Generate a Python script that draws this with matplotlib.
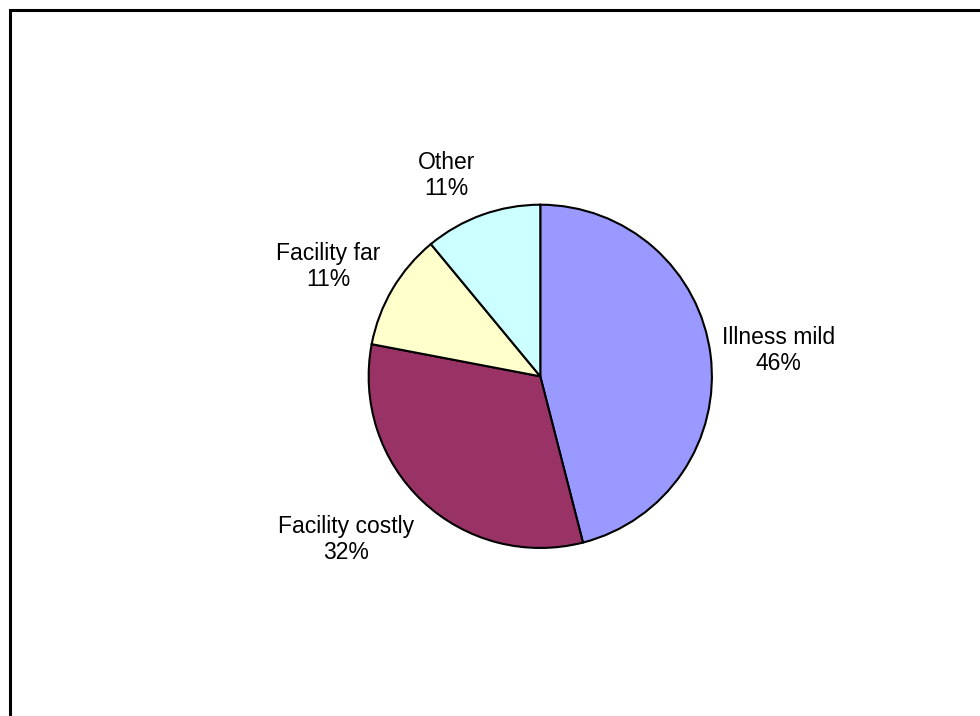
import matplotlib
matplotlib.use("Agg")
import matplotlib.pyplot as plt
from matplotlib.patches import Rectangle

# reasons for not seeking care
labels = ["Illness mild", "Facility costly", "Facility far", "Other"]
shares = [46, 32, 11, 11]
colors = ["#9999FF", "#993366", "#FFFFCC", "#CCFFFF"]

# label centres, in units of the pie radius (Excel-style placement)
label_pos = [(1.386, 0.151), (-1.131, -0.951), (-1.235, 0.638), (-0.545, 1.171)]

plt.rcParams["font.family"] = ["Liberation Sans", "DejaVu Sans"]

fig = plt.figure(figsize=(9.8, 7.16), dpi=100)
fig.patch.set_facecolor("white")

# chart area border (only left and top fall inside the picture)
fig.patches.append(Rectangle((10 / 980, -0.5), 2.0, 1.5 - 10 / 716,
                             transform=fig.transFigure, fill=False,
                             edgecolor="black", linewidth=2.2))

ax = fig.add_axes([0.3753, 0.2335, 0.352, 0.4818])
wedges, _ = ax.pie(shares, colors=colors, startangle=90, counterclock=False,
                   radius=1, wedgeprops=dict(edgecolor="black", linewidth=1.5))
ax.set_xlim(-1.005, 1.005)
ax.set_ylim(-1.005, 1.005)
ax.set_aspect("equal")
ax.axis("off")

for name, val, (x, y) in zip(labels, shares, label_pos):
    ax.text(x, y, f"{name}\n{val}%", ha="center", va="center",
            multialignment="center", fontsize=16.5, linespacing=1.15,
            clip_on=False)

fig.savefig("out.png", dpi=100, facecolor="white")
